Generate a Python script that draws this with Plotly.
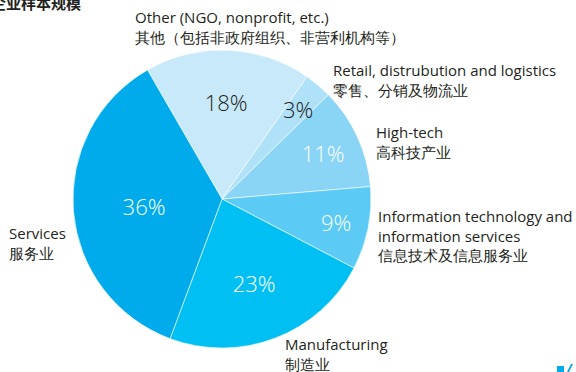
import numpy as np
import plotly.graph_objects as go

# Sector shares (%), clockwise from the top-left edge of the pie
sectors_en = [
    "Other (NGO, nonprofit, etc.)",
    "Retail, distrubution and logistics",
    "High-tech",
    "Information technology and information services",
    "Manufacturing",
    "Services",
]
sectors_zh = [
    "其他（包括非政府组织、非营利机构等）",
    "零售、分销及物流业",
    "高科技产业",
    "信息技术及信息服务业",
    "制造业",
    "服务业",
]
shares = [18, 3, 11, 9, 23, 36]

slice_colors = ["#c8e9fa", "#afe1f8", "#8ad4f6", "#5bcbf5", "#00bff2", "#00abeb"]
pct_colors = ["#231f20", "#231f20", "#ffffff", "#ffffff", "#ffffff", "#ffffff"]

W, H = 576, 372
TEXT = "#231f20"
FONT = "Open Sans"
ROTATION = -30
CX, CY, R = 222, 199, 149  # pie centre and radius in pixels

# The narrow retail slice gets its percentage as a separate label so it keeps full size
NARROW = 1
slice_text = [f"{v}%" if i != NARROW else "" for i, v in enumerate(shares)]

fig = go.Figure(
    go.Pie(
        labels=sectors_en,
        values=shares,
        sort=False,
        direction="clockwise",
        rotation=ROTATION,
        marker=dict(colors=slice_colors, line=dict(color="white", width=0.6)),
        text=slice_text,
        textinfo="text",
        textposition="inside",
        insidetextorientation="horizontal",
        textfont=dict(family=FONT, size=22, color=pct_colors, weight=300),
        hoverinfo="skip",
        showlegend=False,
        domain=dict(x=[(CX - R) / W, (CX + R) / W],
                    y=[(H - CY - R) / H, (H - CY + R) / H]),
    )
)


def px(x, y):
    return x / W, 1 - y / H


annotations = []

# Percentage for the narrow slice, placed on its mid-angle
total = float(sum(shares))
mid = ROTATION + 360 * (sum(shares[:NARROW]) + shares[NARROW] / 2) / total
rad = np.deg2rad(mid)
r_lab = 0.79 * R
lx, ly = px(CX + r_lab * np.sin(rad), CY - r_lab * np.cos(rad))
annotations.append(dict(
    x=lx, y=ly, xref="paper", yref="paper", xanchor="center", yanchor="middle",
    showarrow=False, text=f"{shares[NARROW]}%",
    font=dict(family=FONT, size=22, color=pct_colors[NARROW], weight=300),
))

# Category label blocks: (left edge px, centre of first line px, lines)
label_blocks = [
    (133, 18, [sectors_en[0], sectors_zh[0]]),
    (331, 71, [sectors_en[1], sectors_zh[1]]),
    (374, 133, [sectors_en[2], sectors_zh[2]]),
    (376, 218, ["Information technology and", "information services", sectors_zh[3]]),
    (7, 234, [sectors_en[5], sectors_zh[5]]),
    (283, 345, [sectors_en[4], sectors_zh[4]]),
]
LINE = 17.5
for x0, y0, lines in label_blocks:
    ax, ay = px(x0, y0 + (len(lines) - 1) * LINE / 2)
    annotations.append(dict(
        x=ax, y=ay, xref="paper", yref="paper",
        xanchor="left", yanchor="middle", align="left", showarrow=False,
        text="<br>".join(lines), font=dict(family=FONT, size=15, color=TEXT),
    ))

# Chart title, running off the top-left corner
tx, ty = px(-11, 3)
annotations.append(dict(
    x=tx, y=ty, xref="paper", yref="paper", xanchor="left", yanchor="middle",
    showarrow=False, text="<b>企业样本规模</b>",
    font=dict(family="Noto Sans CJK SC", size=15, color=TEXT),
))

fig.update_layout(
    width=W, height=H,
    margin=dict(l=0, r=0, t=0, b=0),
    paper_bgcolor="white",
    annotations=annotations,
    shapes=[
        dict(type="rect", xref="paper", yref="paper",
             x0=557 / W, x1=564 / W, y0=0, y1=1 - 366 / H,
             fillcolor="#00abeb", line=dict(width=0)),
        dict(type="path", xref="paper", yref="paper",
             path=f"M {567/W} 0 L {571/W} {1-364/H} L {573/W} {1-364/H} L {569/W} 0 Z",
             fillcolor="#00abeb", line=dict(width=0)),
    ],
)

fig.write_html("out.html")
